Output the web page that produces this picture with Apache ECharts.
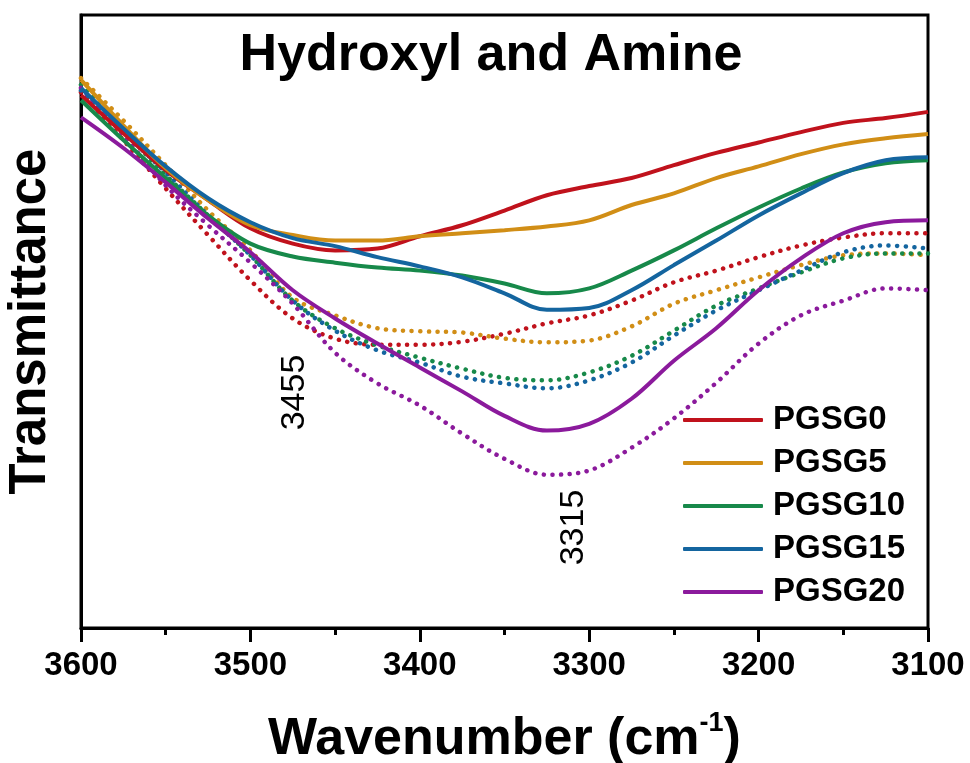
<!DOCTYPE html>
<html>
<head>
<meta charset="utf-8">
<script src="https://cdn.jsdelivr.net/npm/echarts@6/dist/echarts.min.js"></script>
<style>
html,body{margin:0;padding:0;background:#fff;}
#chart{width:970px;height:763px;}
</style>
</head>
<body>
<div id="chart"></div>
<script>
// ---- data (transmittance, arbitrary units) ----
const wavenumbers = [3600,3575,3550,3525,3500,3475,3450,3425,3400,3375,3350,3325,3300,3275,3250,3225,3200,3175,3150,3125,3100];
const seriesNames = ['PGSG0','PGSG5','PGSG10','PGSG15','PGSG20'];
const seriesColors = ['#C0121C','#D18E16','#17894A','#14659F','#8B1A9C'];
// solid traces
const pgsg0  = [86.9,80.7,74.7,69.8,65.2,62.7,61.6,61.9,63.9,65.7,68.1,70.6,72.1,73.4,75.5,77.5,79.2,80.9,82.4,83.2,84.2];
const pgsg5  = [89.4,82.0,75.0,69.8,65.7,64.1,63.2,63.2,63.9,64.4,64.9,65.5,66.5,69.0,70.9,73.4,75.3,77.3,78.9,79.9,80.6];
const pgsg10 = [86.1,79.6,73.4,67.3,62.7,60.6,59.6,58.8,58.3,57.5,56.2,54.6,55.4,58.3,61.6,65.2,68.6,71.7,74.3,75.8,76.3];
const pgsg15 = [88.1,81.5,75.3,70.1,66.2,63.6,62.3,60.5,59.0,57.2,54.6,51.9,52.2,55.1,59.2,63.2,67.3,70.9,74.2,76.3,76.8];
const pgsg20 = [83.3,78.3,72.7,66.8,61.3,55.1,50.5,46.4,42.5,38.6,34.6,32.2,33.3,37.4,43.6,48.9,55.1,60.3,64.4,66.2,66.5];
// dotted traces
const pgsg0d  = [87.4,79.6,71.7,64.1,56.7,50.5,47.2,46.2,46.2,46.7,48.0,49.7,51.0,53.4,56.4,58.3,60.5,62.4,63.7,64.4,64.4];
const pgsg5d  = [89.7,82.8,75.5,68.1,61.6,53.9,51.0,48.9,48.4,48.2,47.2,46.6,46.9,49.2,52.9,55.1,57.2,59.2,60.8,61.1,60.8];
const pgsg10d = [88.6,81.2,73.9,67.3,60.8,53.4,48.9,46.1,44.1,42.3,40.8,40.4,41.7,44.4,48.5,52.6,55.4,58.0,60.3,61.1,61.1];
const pgsg15d = [87.7,80.9,74.3,67.3,60.8,53.4,48.5,45.3,43.3,41.0,39.9,39.1,40.4,43.3,47.7,51.8,55.1,58.3,61.3,62.4,61.9];
const pgsg20d = [88.1,80.4,72.2,65.7,59.6,52.9,44.9,39.9,36.3,31.7,27.6,25.0,25.7,29.4,34.2,40.0,46.4,51.0,53.4,55.4,55.1];
const xTicks = [3600,3500,3400,3300,3200,3100];
const peakLabels = ['3455','3315'];

const solid = [pgsg0,pgsg5,pgsg10,pgsg15,pgsg20];
const dotted = [pgsg0d,pgsg5d,pgsg10d,pgsg15d,pgsg20d];
const zip = arr => wavenumbers.map((w,i)=>[w,arr[i]]);
const FONT = "'Liberation Sans', Arial, sans-serif";

const series = [];
dotted.forEach((d,i)=>{
  series.push({
    name: seriesNames[i] + ' (dotted)', type:'line', data: zip(d), smooth:0.35,
    symbol:'none', z:2,
    lineStyle:{color:seriesColors[i], width:4.5, type:[0.1,8.5], cap:'round'}
  });
});
solid.forEach((d,i)=>{
  series.push({
    name: seriesNames[i], type:'line', data: zip(d), smooth:0.35,
    symbol:'none', z:3, color: seriesColors[i],
    lineStyle:{color:seriesColors[i], width:4}
  });
});

const chart = echarts.init(document.getElementById('chart'), null, {renderer:'canvas'});
chart.setOption({
  animation:false,
  backgroundColor:'#fff',
  grid:{left:81, right:42, top:15, bottom:135, show:true, borderColor:'#000', borderWidth:3, containLabel:false, outerBoundsMode:'none'},
  xAxis:{
    type:'value', inverse:true, min:3100, max:3600, interval:100,
    axisLine:{show:true, lineStyle:{color:'#000', width:3}},
    axisTick:{show:true, inside:false, length:14, lineStyle:{color:'#000', width:3}},
    minorTick:{show:true, splitNumber:2, length:7, lineStyle:{color:'#000', width:3}},
    splitLine:{show:false},
    axisLabel:{color:'#000', fontSize:33, fontWeight:'bold', fontFamily:FONT, margin:21,
      formatter: v => xTicks.includes(v) ? String(v) : ''},
    name:'{b|Wavenumber (cm}{s|-1}{b|)}', nameLocation:'middle', nameGap:82,
    nameTextStyle:{ rich:{
      b:{fontSize:52, fontWeight:'bold', fontFamily:FONT, color:'#000', lineHeight:60},
      s:{fontSize:27, fontWeight:'bold', fontFamily:FONT, color:'#000', lineHeight:60, verticalAlign:'top', padding:[0,0,20,0]}
    }}
  },
  yAxis:{
    type:'value', min:0, max:100,
    axisLine:{show:true, lineStyle:{color:'#000', width:3}},
    axisTick:{show:false}, axisLabel:{show:false}, splitLine:{show:false},
    name:'Transmittance', nameLocation:'middle', nameGap:25,
    nameTextStyle:{fontSize:51, fontWeight:'bold', fontFamily:FONT, color:'#000'}
  },
  legend:{
    data: seriesNames, orient:'vertical', left:678, top:398,
    icon:'roundRect', itemWidth:80, itemHeight:4, itemGap:9,
    textStyle:{fontSize:33, fontWeight:'bold', fontFamily:FONT, color:'#000', lineHeight:34, padding:[0,0,0,5]}
  },
  graphic:[
    {type:'text', x:491, y:56, style:{text:'Hydroxyl and Amine', font:"bold 52px 'Liberation Sans', Arial, sans-serif", fill:'#000', textAlign:'center', textVerticalAlign:'middle'}},
    {type:'text', x:294.5, y:392.5, rotation:Math.PI/2, style:{text:peakLabels[0], font:"34px 'Liberation Sans', Arial, sans-serif", fill:'#000', textAlign:'center', textVerticalAlign:'middle'}},
    {type:'text', x:573.5, y:527.5, rotation:Math.PI/2, style:{text:peakLabels[1], font:"34px 'Liberation Sans', Arial, sans-serif", fill:'#000', textAlign:'center', textVerticalAlign:'middle'}}
  ],
  series: series
});
</script>
</body>
</html>
